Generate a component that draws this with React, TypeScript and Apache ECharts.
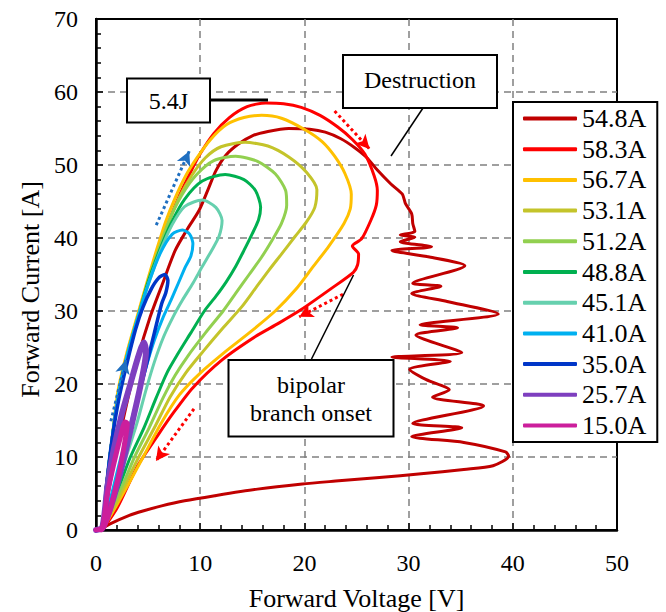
import React, { useEffect, useRef } from "react";
import * as echarts from "echarts";

const X_MIN = 0, X_MAX = 50, X_STEP = 10;
const Y_MIN = 0, Y_MAX = 70, Y_STEP = 10;

const seriesNames = ["54.8A", "58.3A", "56.7A", "53.1A", "51.2A", "48.8A", "45.1A", "41.0A", "35.0A", "25.7A", "15.0A"];
const seriesColors = ["#C00000", "#FF0000", "#FFC000", "#C4C42A", "#92D050", "#00B050", "#66D0AE", "#00B0F0", "#0036C8", "#7E3FBF", "#CC1F9C"];
const seriesWidths = [3, 3, 3, 3, 3, 3, 3, 3, 3.5, 6, 5];

const curve548 = [[0,0],[0.6,0.3],[1.3,6],[2.0,11],[2.9,17],[4.0,23.5],[5.2,29.2],[6.4,33.8],[7.6,38.3],[8.8,41.3],[9.9,43.8],[10.8,46.8],[11.5,49.2],[12.5,51.4],[13.7,52.9],[15,54],[16.5,54.6],[18.5,55],[20.5,54.9],[22,54.5],[23.5,53.6],[24.8,52.4],[26,51],[27,49.3],[28.3,47.4],[29.4,46],[29.7,44.7],[30.3,43.3],[30.4,42],[30.6,40.9],[29.2,40.4],[30.6,40.1],[29.2,39.5],[32.2,38.8],[28.4,38.3],[32,37.4],[35.4,36.2],[30.4,33.8],[33.1,33.4],[30.3,32.4],[33.7,31.3],[38.6,29.6],[31.1,28.1],[34.7,27.7],[30.7,26.7],[35.1,24.3],[28.4,23.7],[34,23.1],[30.1,22],[31.7,20.6],[33.9,19.2],[32.3,18.2],[37.2,17],[30.4,14.6],[35.1,14],[30.3,12.8],[35.3,12],[39.3,10.7],[39.6,10.1],[38.1,8.8],[35.3,8.3],[31.2,7.7],[27.2,7.2],[23,6.7],[19.8,6.3],[15.5,5.6],[11.4,4.7],[8.5,4],[6.3,3.3],[4.5,2.6],[3.2,2],[1.3,0.8],[0.5,0.1]];
const curve583 = [[0,0],[0.6,0.3],[1.0,6],[1.5,12],[2.2,19],[3.1,24.5],[4.1,29.5],[5.0,34],[6.0,38.3],[7.0,42.3],[8.0,45.8],[9.0,48.8],[9.9,51.3],[11.3,54.3],[12.8,56.5],[14.5,58],[16.3,58.5],[18,58.4],[19.7,57.9],[21.5,56.8],[23.2,55.2],[24.6,53.5],[25.8,51.5],[26.7,48.5],[27.0,46.5],[26.9,44.5],[26.4,42.5],[25.5,39.9],[24.6,38.9],[25.2,37.8],[25.1,36.3],[24.7,35.3],[22.5,33],[19.7,30.2],[17.5,28.3],[15.3,26.5],[12.1,23.3],[9.3,19.5],[7.4,16],[5.9,12.9],[4.0,8.8],[2.1,3.2],[0.9,0.6],[0.5,0]];
const curve567 = [[0,0],[0.6,0.3],[1.0,6],[1.5,12],[2.1,19],[3.0,24.5],[4.0,29.5],[4.9,34],[5.8,38.3],[6.7,42.3],[7.6,45.5],[8.6,48.5],[9.7,51],[11,53.5],[12.5,55.5],[14.2,56.5],[15.9,56.8],[17.8,56.4],[20.1,54.8],[21.7,53.2],[22.9,51.2],[23.9,48.8],[24.5,46],[24.4,44],[23.8,42],[22.3,38.8],[20.8,36],[19.2,33],[17.2,30],[14.7,27],[12.3,24.3],[10.0,21.5],[8.0,18.5],[6.2,14.5],[4.6,10.2],[3.2,6.5],[1.9,3.2],[0.9,0.8],[0.5,0]];
const curve531 = [[0,0],[0.6,0.3],[1.0,6],[1.5,12],[2.2,19],[3.1,24.5],[4.1,29.5],[5.0,34],[6.0,38.3],[7.0,42.3],[8.0,45.6],[9.2,48.6],[10.5,51],[12,52.5],[14.3,53.1],[16.5,52.6],[18.5,51.1],[20.2,49],[21.2,46.6],[21.0,44.2],[20.2,42.2],[19.1,40.2],[17.8,37.8],[16.6,35.6],[15.3,33.1],[14.0,30.6],[12.2,27.7],[10.3,24.5],[8.6,21.5],[7.1,18.2],[5.6,14],[4.1,10],[2.8,6.2],[1.7,3],[0.8,0.7],[0.5,0]];
const curve512 = [[0,0],[0.6,0.3],[1.0,6],[1.5,12],[2.2,19],[3.1,24.5],[4.1,29.5],[5.0,34],[6.0,38.3],[7.0,42.3],[8.2,45.8],[9.6,48.6],[11.3,50.6],[13.4,51.2],[15.5,50.5],[17.2,48.8],[18.2,46.5],[18.3,44.5],[17.8,42],[16.9,39.7],[15.9,37.4],[14.7,35],[13.4,32.4],[12.2,30],[10.5,27],[8.8,23.8],[7.6,21.2],[6.4,18],[5.1,14],[3.7,10],[2.6,6.3],[1.5,3],[0.8,0.7],[0.5,0]];
const curve488 = [[0,0],[0.6,0.3],[1.0,6],[1.5,12],[2.2,19],[3.1,24.5],[4.1,29.5],[5.0,34],[6.1,38.3],[7.2,42],[8.5,45.3],[10.2,47.8],[12.4,48.7],[14.2,48],[15.3,46.5],[15.8,44.2],[15.6,42.5],[15.0,40.6],[14.2,38.3],[13.4,36.1],[12.5,34],[11.5,32],[10.4,30],[9.1,27],[7.8,24],[6.8,21.5],[5.8,18.2],[4.6,14],[3.3,10],[2.3,6.3],[1.3,3],[0.7,0.7],[0.5,0]];
const curve451 = [[0,0],[0.6,0.3],[1.0,6],[1.5,12],[2.2,19],[3.1,24.5],[4.1,29.5],[5.1,34],[6.2,38.3],[7.3,41.8],[8.5,44.3],[10.2,45.2],[11.5,44.2],[12.1,42.4],[11.8,40.2],[11.1,38.3],[10.2,36.1],[9.3,33.8],[8.3,31.5],[7.4,29.2],[6.5,26.5],[5.6,23],[4.8,19.2],[3.9,14.5],[2.9,10],[2.0,6],[1.2,2.7],[0.6,0.3]];
const curve410 = [[0,0],[0.6,0.3],[1.0,6],[1.5,12],[2.2,19],[3.1,24.5],[4.1,29.5],[5.1,34],[6.2,38],[7.3,40.5],[8.3,41.1],[9.0,40.5],[9.3,39.2],[9.1,37.5],[8.6,36.1],[7.9,33.8],[7.2,31.5],[6.4,29],[5.6,26],[4.9,22.8],[4.2,19.2],[3.3,14.5],[2.4,10],[1.6,5.5],[1.0,2.2],[0.6,0.2]];
const curve350 = [[0,0],[0.6,0.3],[1.0,6],[1.5,12],[2.2,18],[3.0,23],[3.8,27.5],[4.5,30.5],[5.3,33],[6.0,34.5],[6.6,35],[6.9,34.2],[6.7,32.5],[6.3,31],[5.6,27],[4.8,22.4],[4.0,18],[3.2,13],[2.3,8],[1.5,3.5],[0.6,0.2]];
const curve257 = [[0,0],[0.6,0.3],[1.1,6],[1.7,11],[2.5,16],[3.3,20],[4.0,23.5],[4.6,25.7],[4.8,24.5],[4.3,20],[3.6,15.5],[2.8,10.5],[1.9,5.5],[1.1,1.8],[0.6,0.2]];
const curve150 = [[0,0],[0.6,0.3],[1.1,5],[1.7,9],[2.3,12.5],[2.8,14.8],[3.0,14.6],[2.7,11.5],[2.1,7],[1.4,3],[0.8,0.5],[0.5,0]];
const curves = [curve548, curve583, curve567, curve531, curve512, curve488, curve451, curve410, curve350, curve257, curve150];

// dotted direction arrows: [from, to]
const redArrows = [[[22.9, 57.4], [26.25, 52.2]], [[23.7, 32.3], [19.5, 29.2]], [[9.4, 16.6], [5.75, 9.45]]];
const blueArrows = [[[5.78, 41.75], [8.95, 51.9]], [[1.43, 14.9], [2.86, 23.3]]];

const FONT = "Liberation Serif";

export default function App() {
  const ref = useRef<HTMLDivElement>(null);
  useEffect(() => {
    if (!ref.current) return;
    const chart = echarts.init(ref.current, null, { renderer: "svg" });
    const mkArrows = (arr: number[][][], color: string) => ({
      silent: true,
      animation: false,
      symbol: ["none", "arrow"],
      symbolSize: [11, 14],
      label: { show: false },
      emphasis: { disabled: true },
      z: 30,
      lineStyle: { type: [3, 3], width: 3, color },
      data: arr.map((a) => [{ coord: a[0] }, { coord: a[1] }]),
    });
    const series: any[] = curves.map((c, i) => ({
      name: seriesNames[i],
      type: "line",
      data: c,
      symbol: "none",
      smooth: 0.25,
      lineStyle: { color: seriesColors[i], width: seriesWidths[i], cap: "round", join: "round" },
      itemStyle: { color: seriesColors[i] },
      z: 2 + i,
      ...(i === 1 ? { markLine: mkArrows(redArrows, "#FF0000") } : {}),
      ...(i === 7 ? { markLine: mkArrows(blueArrows, "#1F6FC0") } : {}),
    }));
    const txt = (text: string, x: number, y: number) => ({
      type: "text", z: 51, x, y,
      style: { text, fontFamily: FONT, fontSize: 24, fill: "#000", align: "center", verticalAlign: "middle" },
    });
    chart.setOption({
      animation: false,
      backgroundColor: "#fff",
      textStyle: { fontFamily: FONT },
      grid: {
        left: 96, right: 49, top: 19, bottom: 82, show: true, containLabel: false, outerBoundsMode: "none",
        borderColor: "#000", borderWidth: 2, backgroundColor: "transparent",
      },
      xAxis: {
        type: "value", min: X_MIN, max: X_MAX, interval: X_STEP,
        name: "Forward Voltage [V]", nameLocation: "middle", nameGap: 55,
        nameTextStyle: { fontFamily: FONT, fontSize: 26, color: "#000" },
        axisLine: { show: true, onZero: false, lineStyle: { color: "#000", width: 2.5 } },
        axisTick: { show: true, inside: true, length: 7, lineStyle: { color: "#000", width: 1.5 } },
        minorTick: { show: true, splitNumber: 5, length: 5, lineStyle: { color: "#000", width: 1.5 } },
        axisLabel: { fontFamily: FONT, fontSize: 24, color: "#000", margin: 21 },
        splitLine: { show: true, showMinLine: false, showMaxLine: false, lineStyle: { color: "#808080", width: 1.5, type: [7, 5] } },
      },
      yAxis: {
        type: "value", min: Y_MIN, max: Y_MAX, interval: Y_STEP,
        name: "Forward Current [A]", nameLocation: "middle", nameGap: 53, nameRotate: 90,
        nameTextStyle: { fontFamily: FONT, fontSize: 26, color: "#000", padding: [0, 30, 0, 0] },
        axisLine: { show: true, onZero: false, lineStyle: { color: "#000", width: 2.5 } },
        axisTick: { show: true, inside: true, length: 7, lineStyle: { color: "#000", width: 1.5 } },
        minorTick: { show: true, splitNumber: 5, length: 5, lineStyle: { color: "#000", width: 1.5 } },
        axisLabel: { fontFamily: FONT, fontSize: 24, color: "#000", margin: 18 },
        splitLine: { show: true, showMinLine: false, showMaxLine: false, lineStyle: { color: "#808080", width: 1.5, type: [7, 5] } },
      },
      legend: {
        data: seriesNames,
        orient: "vertical",
        left: 513, top: 102,
        selectedMode: false,
        backgroundColor: "#fff",
        borderColor: "#000",
        borderWidth: 2,
        borderRadius: 0,
        padding: [3, 11, 3, 10],
        itemGap: 3.7,
        itemWidth: 54,
        itemHeight: 4,
        icon: "roundRect",
        textStyle: { fontFamily: FONT, fontSize: 26, color: "#000", lineHeight: 27 },
        z: 20,
      },
      graphic: [
        { type: "line", z: 50, shape: { x1: 210, y1: 100, x2: 268, y2: 100 }, style: { stroke: "#000", lineWidth: 3 } },
        { type: "rect", z: 50, shape: { x: 127, y: 78.5, width: 83, height: 44 }, style: { fill: "#fff", stroke: "#000", lineWidth: 2 } },
        txt("5.4J", 168.5, 100.5),
        { type: "line", z: 50, shape: { x1: 423, y1: 108, x2: 391, y2: 156 }, style: { stroke: "#000", lineWidth: 1.5 } },
        { type: "rect", z: 50, shape: { x: 343, y: 55, width: 154, height: 53 }, style: { fill: "#fff", stroke: "#000", lineWidth: 2 } },
        txt("Destruction", 420, 80),
        { type: "line", z: 50, shape: { x1: 311.5, y1: 359, x2: 353.5, y2: 275 }, style: { stroke: "#000", lineWidth: 1.5 } },
        { type: "rect", z: 50, shape: { x: 228.5, y: 360, width: 165, height: 76.5 }, style: { fill: "#fff", stroke: "#000", lineWidth: 2 } },
        txt("bipolar", 311, 385),
        txt("branch onset", 311, 413),
      ],
      series,
    });
    return () => chart.dispose();
  }, []);
  return <div ref={ref} style={{ position: "fixed", left: 0, top: 0, width: 666, height: 612, background: "#fff" }} />;
}
